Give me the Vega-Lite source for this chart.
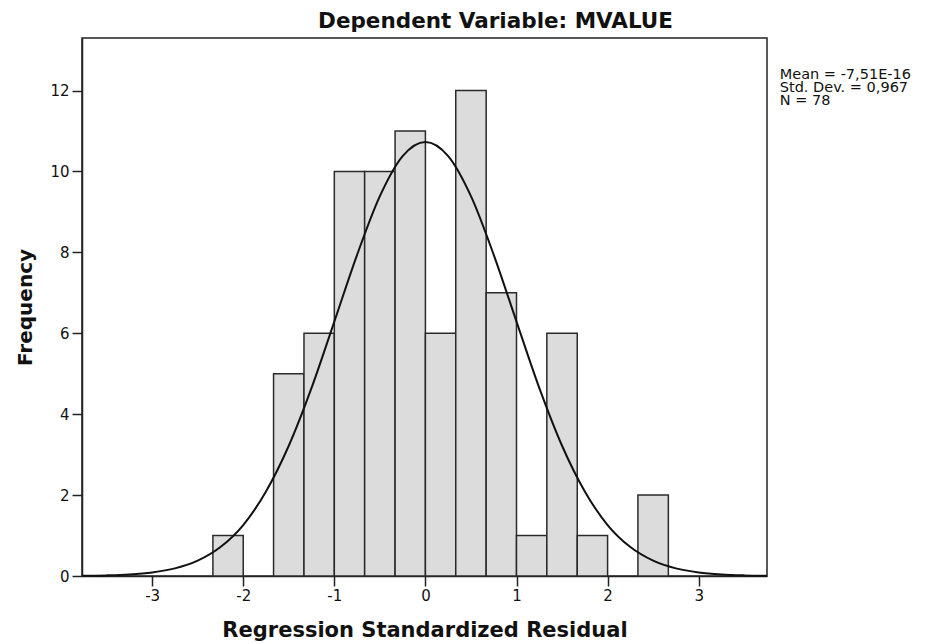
{
  "$schema": "https://vega.github.io/schema/vega-lite/v6.json",
  "autosize": {"type": "none"},
  "padding": {"left": 82, "top": 38, "right": 158, "bottom": 68},
  "width": 685,
  "height": 538,
  "background": "white",
  "config": {
    "font": "DejaVu Sans",
    "view": {"stroke": "#222", "strokeWidth": 1.5},
    "axis": {
      "grid": false,
      "domainColor": "#222",
      "domainWidth": 1.5,
      "tickColor": "#222",
      "tickWidth": 1.5,
      "tickSize": 10,
      "labelFont": "DejaVu Sans",
      "labelFontSize": 15,
      "labelColor": "#111",
      "titleFont": "DejaVu Sans",
      "titleFontSize": 21,
      "titleFontWeight": "bold",
      "titleColor": "#111"
    }
  },
  "title": {
    "text": "Dependent Variable: MVALUE",
    "font": "DejaVu Sans",
    "fontSize": 21.5,
    "fontWeight": "bold",
    "color": "#111",
    "anchor": "middle",
    "dx": 71,
    "offset": 6
  },
  "layer": [
    {
      "data": {"values": [
        {"lo": -2.333, "hi": -2.0, "count": 1},
        {"lo": -1.667, "hi": -1.333, "count": 5},
        {"lo": -1.333, "hi": -1.0, "count": 6},
        {"lo": -1.0, "hi": -0.667, "count": 10},
        {"lo": -0.667, "hi": -0.333, "count": 10},
        {"lo": -0.333, "hi": 0.0, "count": 11},
        {"lo": 0.0, "hi": 0.333, "count": 6},
        {"lo": 0.333, "hi": 0.667, "count": 12},
        {"lo": 0.667, "hi": 1.0, "count": 7},
        {"lo": 1.0, "hi": 1.333, "count": 1},
        {"lo": 1.333, "hi": 1.667, "count": 6},
        {"lo": 1.667, "hi": 2.0, "count": 1},
        {"lo": 2.333, "hi": 2.667, "count": 2}
      ]},
      "mark": {"type": "bar", "fill": "#dcdcdc", "stroke": "#2a2a2a", "strokeWidth": 1.5},
      "encoding": {
        "x": {
          "field": "lo", "type": "quantitative",
          "scale": {"domain": [-3.77, 3.75], "nice": false, "zero": false},
          "axis": {"values": [-3, -2, -1, 0, 1, 2, 3], "labelExpr": "'' + datum.value", "title": "Regression Standardized Residual", "titlePadding": 16, "labelPadding": 2}
        },
        "x2": {"field": "hi"},
        "y": {
          "field": "count", "type": "quantitative",
          "scale": {"domain": [0, 13.3], "nice": false},
          "axis": {"values": [0, 2, 4, 6, 8, 10, 12], "title": "Frequency", "titleFontSize": 20, "titlePadding": 14, "labelPadding": 3}
        },
        "y2": {"datum": 0}
      }
    },
    {
      "data": {"values": [
        {"x": -3.77, "f": 0.005},
        {"x": -3.5, "f": 0.0153},
        {"x": -3.25, "f": 0.0378},
        {"x": -3.0, "f": 0.0871},
        {"x": -2.75, "f": 0.188},
        {"x": -2.5, "f": 0.380},
        {"x": -2.25, "f": 0.716},
        {"x": -2.0, "f": 1.26},
        {"x": -1.75, "f": 2.09},
        {"x": -1.5, "f": 3.22},
        {"x": -1.25, "f": 4.65},
        {"x": -1.0, "f": 6.29},
        {"x": -0.75, "f": 7.94},
        {"x": -0.5, "f": 9.39},
        {"x": -0.25, "f": 10.38},
        {"x": 0.0, "f": 10.73},
        {"x": 0.25, "f": 10.38},
        {"x": 0.5, "f": 9.39},
        {"x": 0.75, "f": 7.94},
        {"x": 1.0, "f": 6.29},
        {"x": 1.25, "f": 4.65},
        {"x": 1.5, "f": 3.22},
        {"x": 1.75, "f": 2.09},
        {"x": 2.0, "f": 1.26},
        {"x": 2.25, "f": 0.716},
        {"x": 2.5, "f": 0.380},
        {"x": 2.75, "f": 0.188},
        {"x": 3.0, "f": 0.0871},
        {"x": 3.25, "f": 0.0378},
        {"x": 3.5, "f": 0.0153},
        {"x": 3.75, "f": 0.0058}
      ]},
      "mark": {"type": "line", "color": "#111", "strokeWidth": 2, "interpolate": "monotone"},
      "encoding": {
        "x": {"field": "x", "type": "quantitative"},
        "y": {"field": "f", "type": "quantitative"}
      }
    },
    {
      "data": {"values": [
        {"x": 3.89, "y": 12.28, "label": "Mean = -7,51E-16\nStd. Dev. = 0,967\nN = 78"}
      ]},
      "mark": {"type": "text", "align": "left", "baseline": "alphabetic", "lineBreak": "\n", "lineHeight": 13, "font": "DejaVu Sans", "fontSize": 14.5, "color": "#111", "clip": false},
      "encoding": {
        "x": {"field": "x", "type": "quantitative"},
        "y": {"field": "y", "type": "quantitative"},
        "text": {"field": "label"}
      }
    }
  ]
}
